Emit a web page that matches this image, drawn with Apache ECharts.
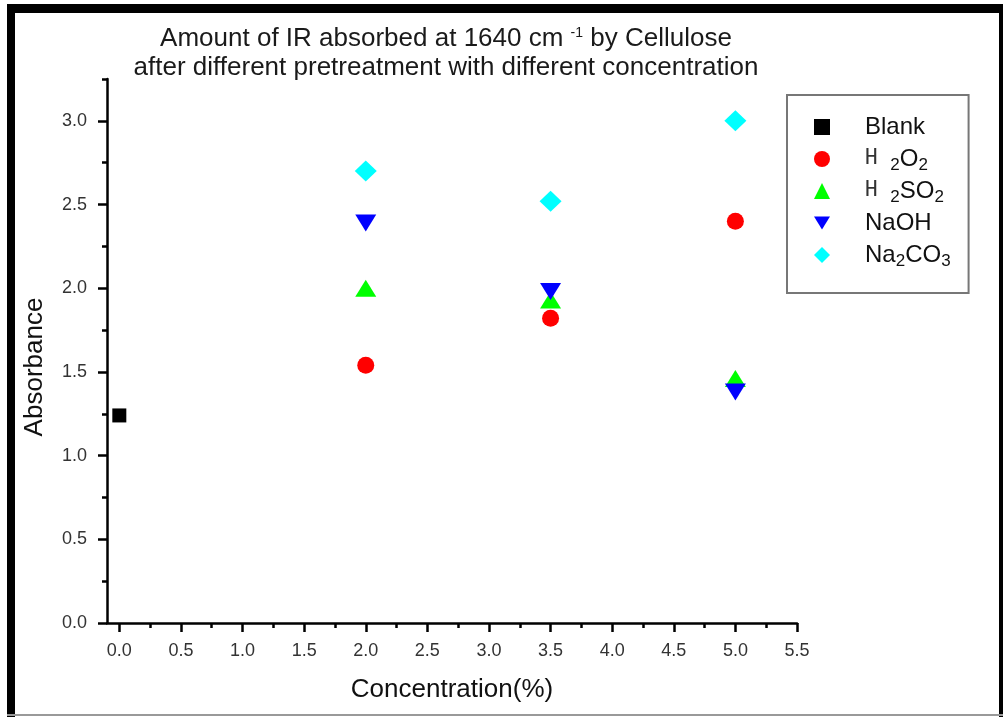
<!DOCTYPE html>
<html>
<head>
<meta charset="utf-8">
<script src="https://cdn.jsdelivr.net/npm/echarts@6/dist/echarts.min.js"></script>
<style>
html, body { margin: 0; padding: 0; background: #fff; }
#chartDom { width: 1003px; height: 717px; }
</style>
</head>
<body>
<div id="chartDom"></div>
<script>
// absorbance at 1640 cm-1
var blankX = [0];
var blankY = [1.24];
var concX = [2.0, 3.5, 5.0];
var h2o2Y = [1.54, 1.82, 2.40];
var h2so2Y = [2.00, 1.93, 1.46];
var naohY = [2.39, 1.98, 1.38];
var na2co3Y = [2.70, 2.52, 3.00];

// tick positions
var xMajor = [0, 0.5, 1.0, 1.5, 2.0, 2.5, 3.0, 3.5, 4.0, 4.5, 5.0, 5.5];
var xMinor = [0.25, 0.75, 1.25, 1.75, 2.25, 2.75, 3.25, 3.75, 4.25, 4.75, 5.25];
var yMajor = [0, 0.5, 1.0, 1.5, 2.0, 2.5, 3.0];
var yMinor = [0.25, 0.75, 1.25, 1.75, 2.25, 2.75, 3.25];

var legendText = {
    'Blank': 'Blank',
    'H2O2': '{h|H }{s|2}O{s|2}',
    'H2SO2': '{h|H }{s|2}SO{s|2}',
    'NaOH': 'NaOH',
    'Na2CO3': 'Na{s|2}CO{s|3}'
};

function pairs(xs, ys) {
    return xs.map(function (x, i) { return [x, ys[i]]; });
}

var fontFam = 'Liberation Sans, Arial, sans-serif';
var axisColor = '#000';
var downTriangle = 'path://M0,0 L21,0 L10.5,17 Z';

var chart = echarts.init(document.getElementById('chartDom'));
chart.setOption({
    backgroundColor: '#fff',
    animation: false,
    title: {
        left: 446,
        top: 24,
        padding: 0,
        textAlign: 'center',
        text: 'Amount of IR absorbed at 1640 cm {sup|-1} by Cellulose\nafter different pretreatment with different concentration',
        textStyle: {
            fontFamily: fontFam,
            fontSize: 26,
            fontWeight: 'normal',
            color: '#1a1a1a',
            lineHeight: 29,
            rich: {
                sup: { fontSize: 14, verticalAlign: 'top', lineHeight: 29, padding: [2, 0, 0, 0], color: '#1a1a1a', fontFamily: fontFam }
            }
        }
    },
    legend: {
        orient: 'vertical',
        left: 787,
        top: 95,
        padding: [17, 18, 23, 27],
        itemWidth: 16,
        itemHeight: 16,
        itemGap: 2,
        borderColor: '#777',
        borderWidth: 2,
        formatter: function (name) { return legendText[name]; },
        textStyle: {
            fontFamily: fontFam,
            fontSize: 24,
            color: '#111',
            lineHeight: 30,
            padding: [0, 0, 0, 30],
            rich: {
                s: { fontSize: 17, verticalAlign: 'bottom', lineHeight: 30, color: '#111', fontFamily: fontFam },
                h: { fontSize: 21, lineHeight: 30, color: '#333', fontFamily: 'DejaVu Sans Mono, monospace' }
            }
        },
        data: [
            { name: 'Blank' },
            { name: 'H2O2' },
            { name: 'H2SO2' },
            { name: 'NaOH', icon: downTriangle },
            { name: 'Na2CO3' }
        ]
    },
    grid: {
        left: 107,
        top: 79,
        width: 690,
        height: 544,
        outerBoundsMode: 'none'
    },
    xAxis: [{
        type: 'value',
        min: -0.1,
        max: 5.5,
        name: 'Concentration(%)',
        nameLocation: 'middle',
        nameGap: 54,
        nameTextStyle: { fontFamily: fontFam, fontSize: 26, color: '#111' },
        axisLine: { onZero: false, lineStyle: { color: axisColor, width: 2.5 } },
        axisTick: { show: true, inside: false, length: 9, customValues: xMajor, lineStyle: { color: axisColor, width: 2.5 } },
        axisLabel: {
            customValues: xMajor,
            margin: 19,
            fontFamily: fontFam,
            fontSize: 18,
            color: '#333',
            formatter: function (v) { return v.toFixed(1); }
        },
        splitLine: { show: false }
    }, {
        type: 'value',
        min: -0.1,
        max: 5.5,
        position: 'bottom',
        axisLine: { show: false, onZero: false },
        axisTick: { show: true, inside: false, length: 5, customValues: xMinor, lineStyle: { color: axisColor, width: 2.5 } },
        axisLabel: { show: false },
        splitLine: { show: false }
    }],
    yAxis: [{
        type: 'value',
        min: 0,
        max: 3.25,
        name: 'Absorbance',
        nameLocation: 'middle',
        nameGap: 59,
        nameTextStyle: { fontFamily: fontFam, fontSize: 26, color: '#111', padding: [0, 32, 0, 0] },
        axisLine: { show: true, onZero: false, lineStyle: { color: axisColor, width: 2.5 } },
        axisTick: { show: true, inside: false, length: 9, customValues: yMajor, lineStyle: { color: axisColor, width: 2.5 } },
        axisLabel: {
            customValues: yMajor,
            margin: 20,
            fontFamily: fontFam,
            fontSize: 18,
            color: '#333',
            formatter: function (v) { return v.toFixed(1); }
        },
        splitLine: { show: false }
    }, {
        type: 'value',
        min: 0,
        max: 3.25,
        position: 'left',
        axisLine: { show: false, onZero: false },
        axisTick: { show: true, inside: false, length: 5, customValues: yMinor, lineStyle: { color: axisColor, width: 2.5 } },
        axisLabel: { show: false },
        splitLine: { show: false }
    }],
    graphic: [
        { type: 'rect', shape: { x: 7, y: 4, width: 996, height: 9 }, style: { fill: '#000' }, z: 100 },
        { type: 'rect', shape: { x: 7, y: 4, width: 8, height: 713 }, style: { fill: '#000' }, z: 100 },
        { type: 'rect', shape: { x: 999, y: 4, width: 4, height: 713 }, style: { fill: '#000' }, z: 100 },
        { type: 'rect', shape: { x: 7, y: 714, width: 996, height: 2 }, style: { fill: '#999' }, z: 100 }
    ],
    series: [{
        name: 'Blank',
        type: 'scatter',
        symbol: 'rect',
        symbolSize: 14,
        itemStyle: { color: '#000000', opacity: 1 },
        data: pairs(blankX, blankY)
    }, {
        name: 'H2O2',
        type: 'scatter',
        symbol: 'circle',
        symbolSize: 17,
        itemStyle: { color: '#ff0000', opacity: 1 },
        data: pairs(concX, h2o2Y)
    }, {
        name: 'H2SO2',
        type: 'scatter',
        symbol: 'triangle',
        symbolSize: [21, 17],
        itemStyle: { color: '#00ff00', opacity: 1 },
        data: pairs(concX, h2so2Y)
    }, {
        name: 'NaOH',
        type: 'scatter',
        symbol: 'triangle',
        symbolRotate: 180,
        symbolSize: [21, 17],
        itemStyle: { color: '#0000ff', opacity: 1 },
        data: pairs(concX, naohY)
    }, {
        name: 'Na2CO3',
        type: 'scatter',
        symbol: 'diamond',
        symbolSize: [22, 21],
        itemStyle: { color: '#00ffff', opacity: 1 },
        data: pairs(concX, na2co3Y)
    }]
});
</script>
</body>
</html>
